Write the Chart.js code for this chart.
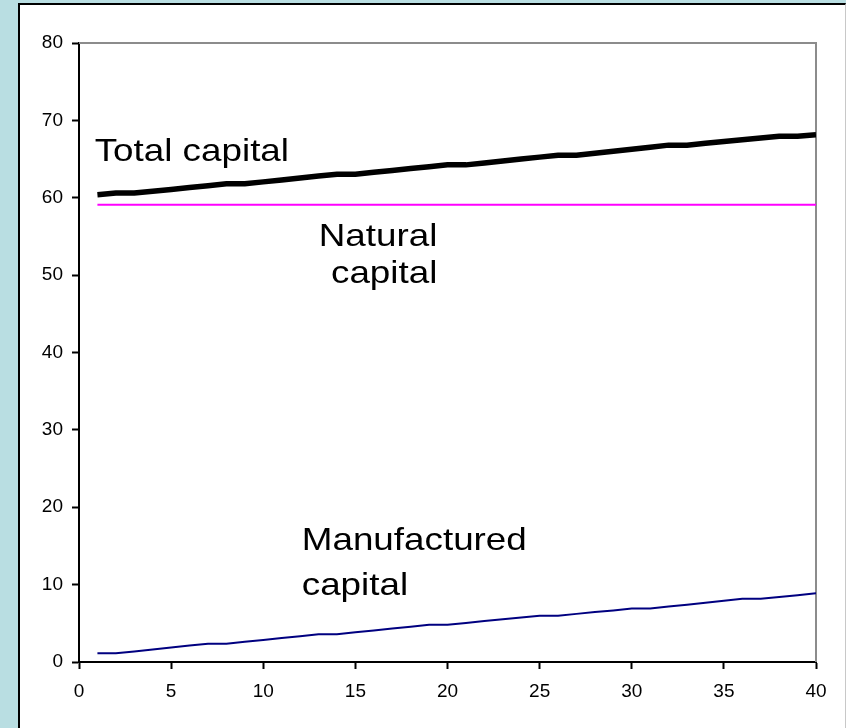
<!DOCTYPE html>
<html>
<head>
<meta charset="utf-8">
<title>Capital stocks over time</title>
<script src="https://cdn.jsdelivr.net/npm/chart.js@4/dist/chart.umd.min.js"></script>
<style>
  html, body { margin: 0; padding: 0; }
  body { width: 846px; height: 728px; background: rgb(185, 222, 226); position: relative; overflow: hidden; }
  #panel {
    position: absolute; left: 18px; top: 3px; width: 825px; height: 740px;
    background: #fff; border-left: 2px solid #000; border-top: 2px solid #000; border-right: 1px solid #c8c8c8;
  }
  #chart { position: absolute; left: 0; top: 0; }
</style>
</head>
<body>
<div id="panel"></div>
<canvas id="chart" width="846" height="728"></canvas>
<script>
// Time periods
const periods = [1, 2, 3, 4, 5, 6, 7, 8, 9, 10,
                 11, 12, 13, 14, 15, 16, 17, 18, 19, 20,
                 21, 22, 23, 24, 25, 26, 27, 28, 29, 30,
                 31, 32, 33, 34, 35, 36, 37, 38, 39, 40];

// Total capital stock
const totalCapital = [60.40, 60.60, 60.60, 60.84, 61.08, 61.32, 61.56, 61.80, 61.80, 62.05,
                      62.30, 62.55, 62.80, 63.05, 63.05, 63.29, 63.53, 63.77, 64.01, 64.25,
                      64.25, 64.50, 64.75, 65.00, 65.25, 65.50, 65.50, 65.76, 66.02, 66.28,
                      66.54, 66.80, 66.80, 67.03, 67.26, 67.49, 67.72, 67.95, 67.95, 68.15];

// Natural capital stock
const naturalCapital = [59.1, 59.1, 59.1, 59.1, 59.1, 59.1, 59.1, 59.1, 59.1, 59.1,
                        59.1, 59.1, 59.1, 59.1, 59.1, 59.1, 59.1, 59.1, 59.1, 59.1,
                        59.1, 59.1, 59.1, 59.1, 59.1, 59.1, 59.1, 59.1, 59.1, 59.1,
                        59.1, 59.1, 59.1, 59.1, 59.1, 59.1, 59.1, 59.1, 59.1, 59.1];

// Manufactured capital stock
const manufacturedCapital = [1.12, 1.12, 1.37, 1.62, 1.87, 2.12, 2.37, 2.37, 2.61, 2.85,
                             3.10, 3.34, 3.58, 3.58, 3.83, 4.08, 4.33, 4.57, 4.82, 4.82,
                             5.05, 5.29, 5.52, 5.76, 5.99, 5.99, 6.22, 6.45, 6.67, 6.90,
                             6.90, 7.16, 7.41, 7.67, 7.92, 8.18, 8.18, 8.41, 8.64, 8.87];

// Axis ranges and tick steps
const xTicks = [0, 5, 10, 15, 20, 25, 30, 35, 40];
const yTicks = [0, 10, 20, 30, 40, 50, 60, 70, 80];

const toPoints = (values) => periods.map((p, i) => ({ x: p, y: values[i] }));

const FONT = "'Liberation Sans', Arial, Helvetica, sans-serif";

// In-plot text labels, anchored in data units
const labelSpecs = [
  { text: 'Total capital', x: 0.85, y: 64.72, align: 'left' },
  { text: 'Natural', x: 19.45, y: 53.78, align: 'right' },
  { text: 'capital', x: 19.45, y: 48.96, align: 'right' },
  { text: 'Manufactured', x: 12.09, y: 14.47, align: 'left' },
  { text: 'capital', x: 12.09, y: 8.66, align: 'left' }
];

const framePlugin = {
  id: 'plotFrame',
  beforeDatasetsDraw(chart) {
    const { ctx, chartArea: a } = chart;
    ctx.save();
    ctx.strokeStyle = '#8c8c8c';
    ctx.lineWidth = 2;
    ctx.beginPath();
    ctx.moveTo(a.left, a.top);
    ctx.lineTo(a.right, a.top);
    ctx.lineTo(a.right, a.bottom);
    ctx.stroke();
    ctx.restore();
  }
};

const textPlugin = {
  id: 'plotText',
  afterDraw(chart) {
    const { ctx } = chart;
    const xs = chart.scales.x, ys = chart.scales.y;
    ctx.save();
    ctx.fillStyle = '#000';
    ctx.font = '32px ' + FONT;
    ctx.textBaseline = 'alphabetic';
    labelSpecs.forEach(l => {
      ctx.save();
      ctx.translate(xs.getPixelForValue(l.x), ys.getPixelForValue(l.y));
      ctx.scale(1.15, 1);
      ctx.textAlign = l.align;
      ctx.fillText(l.text, 0, 0);
      ctx.restore();
    });
    ctx.restore();
  }
};

new Chart(document.getElementById('chart'), {
  type: 'line',
  data: {
    datasets: [
      {
        label: 'Total capital',
        data: toPoints(totalCapital),
        borderColor: '#000000',
        borderWidth: 5.5,
        pointRadius: 0,
        tension: 0,
        order: 0
      },
      {
        label: 'Natural capital',
        data: toPoints(naturalCapital),
        borderColor: '#ff00ff',
        borderWidth: 2,
        pointRadius: 0,
        tension: 0,
        order: 1
      },
      {
        label: 'Manufactured capital',
        data: toPoints(manufacturedCapital),
        borderColor: '#000080',
        borderWidth: 2,
        pointRadius: 0,
        tension: 0,
        order: 2
      }
    ]
  },
  options: {
    responsive: false,
    animation: false,
    layout: { padding: { left: 0, right: 30, top: 43, bottom: 0 } },
    plugins: {
      legend: { display: false },
      tooltip: { enabled: false },
      title: { display: false }
    },
    scales: {
      x: {
        type: 'linear',
        min: xTicks[0],
        max: xTicks[xTicks.length - 1],
        afterBuildTicks: (scale) => { scale.ticks = xTicks.map(v => ({ value: v })); },
        afterFit: (scale) => { scale.height = 66; },
        grid: { display: true, drawOnChartArea: false, drawTicks: true, tickLength: 7, tickColor: '#000', tickWidth: 2 },
        border: { display: true, color: '#000', width: 2 },
        ticks: { color: '#000', font: { family: FONT, size: 19 }, padding: 11, maxRotation: 0 }
      },
      y: {
        type: 'linear',
        min: yTicks[0],
        max: yTicks[yTicks.length - 1],
        afterBuildTicks: (scale) => { scale.ticks = yTicks.map(v => ({ value: v })); },
        afterFit: (scale) => { scale.width = 79; },
        grid: { display: true, drawOnChartArea: false, drawTicks: true, tickLength: 7, tickColor: '#000', tickWidth: 2 },
        border: { display: true, color: '#000', width: 2 },
        ticks: { color: '#000', font: { family: FONT, size: 19 }, padding: 9 }
      }
    }
  },
  plugins: [framePlugin, textPlugin]
});
</script>
</body>
</html>
